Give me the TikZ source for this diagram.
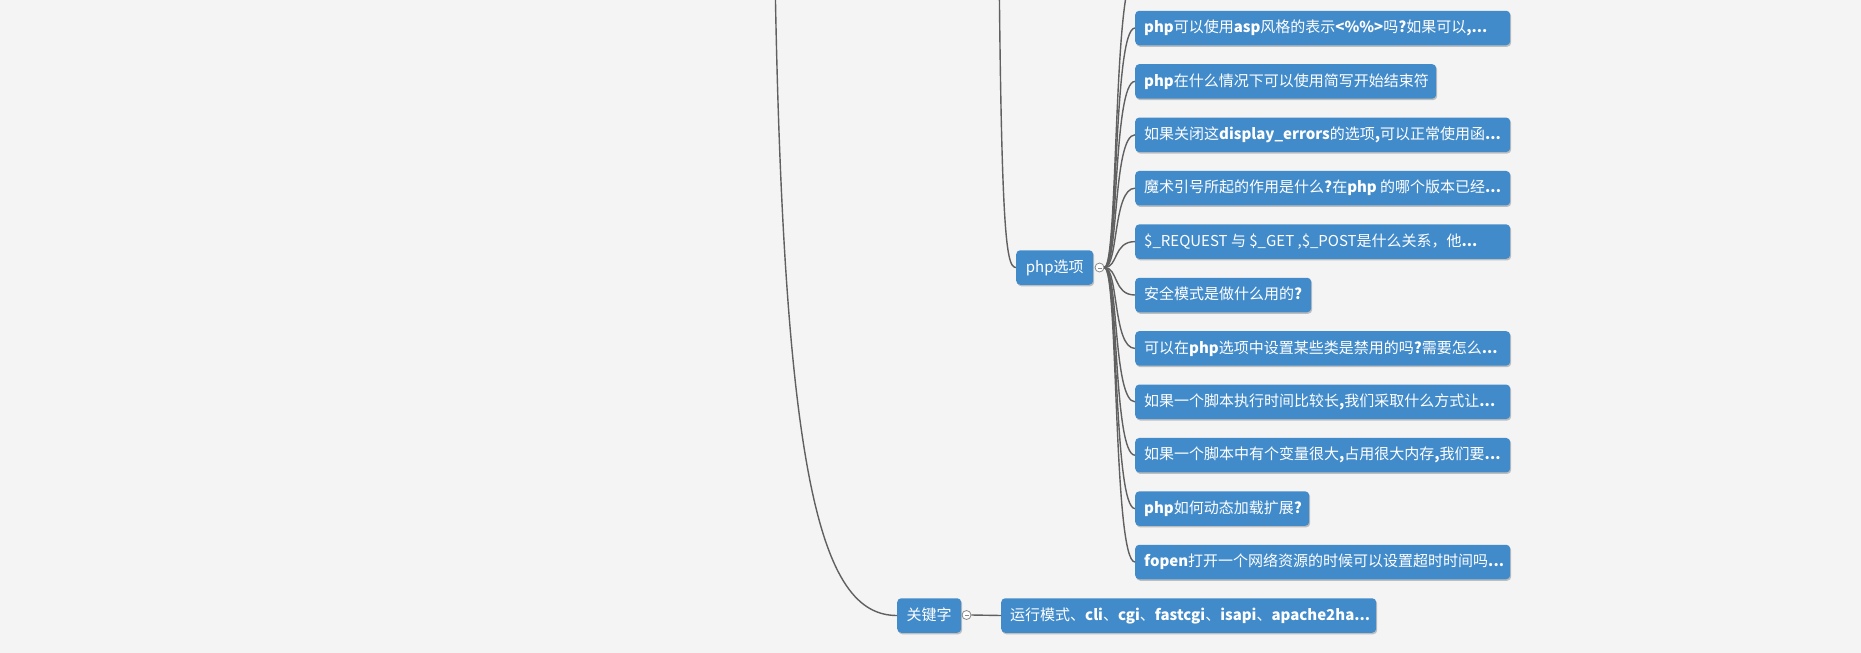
\documentclass[tikz,border=0pt]{standalone}
\usepackage{fontspec}
\setmainfont{Noto Sans CJK SC}
\usetikzlibrary{shadows,calc}
\definecolor{bg}{HTML}{F4F4F4}
\definecolor{topicblue}{HTML}{428BCA}
\definecolor{linegray}{HTML}{606060}
\definecolor{foldgray}{HTML}{8A8A8A}
\begin{document}
\begin{tikzpicture}[x=1pt,y=-1pt,
  topic/.style={fill=topicblue, text=white, rounded corners=4pt, inner xsep=9pt, inner ysep=0pt,
    minimum height=34.5pt, text height=12.5pt, text depth=3pt,
    font=\fontsize{15}{18}\selectfont,
    drop shadow={shadow xshift=1pt,shadow yshift=-1.5pt,fill=black,opacity=0.22}},
  conn/.style={draw=linegray, line width=1.4pt},
  fold/.style={circle, draw=foldgray, fill=white, inner sep=0pt, minimum size=9pt, line width=0.8pt}]
\useasboundingbox (0,0) rectangle (1861,653);
\fill[bg] (0,0) rectangle (1861,653);

% right-hand topics of php选项
\node[topic, anchor=west] (b1) at (1135,28) {\makebox[357pt][l]{\textbf{php}可以使用\textbf{asp}风格的表示\textbf{<\%\%>}吗\textbf{?}如果可以\textbf{,...}}};
\node[topic, anchor=west] (b2) at (1135,81.4) {\makebox[283pt][l]{\textbf{php}在什么情况下可以使用简写开始结束符}};
\node[topic, anchor=west] (b3) at (1135,134.8) {\makebox[357pt][l]{如果关闭这\textbf{display\_errors}的选项\textbf{,}可以正常使用函\textbf{...}}};
\node[topic, anchor=west] (b4) at (1135,188.2) {\makebox[357pt][l]{魔术引号所起的作用是什么\textbf{?}在\textbf{php} 的哪个版本已经\textbf{...}}};
\node[topic, anchor=west] (b5) at (1135,241.6) {\makebox[357pt][l]{\$\_REQUEST 与 \$\_GET ,\$\_POST是什么关系，他\textbf{...}}};
\node[topic, anchor=west] (b6) at (1135,295) {\makebox[158pt][l]{安全模式是做什么用的\textbf{?}}};
\node[topic, anchor=west] (b7) at (1135,348.4) {\makebox[357pt][l]{可以在\textbf{php}选项中设置某些类是禁用的吗\textbf{?}需要怎么\textbf{...}}};
\node[topic, anchor=west] (b8) at (1135,401.8) {\makebox[357pt][l]{如果一个脚本执行时间比较长\textbf{,}我们采取什么方式让\textbf{...}}};
\node[topic, anchor=west] (b9) at (1135,455.2) {\makebox[357pt][l]{如果一个脚本中有个变量很大\textbf{,}占用很大内存\textbf{,}我们要\textbf{...}}};
\node[topic, anchor=west] (b10) at (1135,508.6) {\makebox[156pt][l]{\textbf{php}如何动态加载扩展\textbf{?}}};
\node[topic, anchor=west] (b11) at (1135,562) {\makebox[357pt][l]{\textbf{fopen}打开一个网络资源的时候可以设置超时时间吗\textbf{...}}};
\coordinate (b0) at (1135,-25.4);

% php选项
\node[topic, anchor=west, inner xsep=10pt] (php) at (1016,267.5) {\makebox[57pt][c]{php选项}};
\node[fold] (c1) at (1099.5,267.5) {};
\draw[foldgray, line width=0.8pt] ($(c1.center)+(-2,0.8)$) -- ($(c1.center)+(2,0.8)$);

% 关键字
\node[topic, anchor=west, inner xsep=10pt] (kw) at (897,615.5) {\makebox[44pt][c]{关键字}};
\node[fold] (c2) at (966.5,615) {};
\draw[foldgray, line width=0.8pt] ($(c2.center)+(-2,0.8)$) -- ($(c2.center)+(2,0.8)$);
\node[topic, anchor=west] (b12) at (1001,615.5) {\makebox[357pt][l]{运行模式、\textbf{cli}、\textbf{cgi}、\textbf{fastcgi}、\textbf{isapi}、\textbf{apache2ha...}}};

% parents off the top
\coordinate (pp) at (998,-200);
\coordinate (gp) at (774,-100);

% connectors
\foreach \n in {b1,b2,b3,b4,b5,b6,b7,b8,b9,b10,b11}
  \draw[conn] (c1.east) .. controls +(14,0) and +(-22,0) .. (\n.west);
\draw[conn] (c1.east) .. controls +(14,0) and +(-22,0) .. (b0);
\draw[conn] (pp) .. controls (1000,230) and (1005,267.5) .. (php.west);
\draw[conn] (gp) .. controls (780,480) and (820,615.5) .. (kw.west);
\draw[conn] (c2.east) -- (b12.west);
\end{tikzpicture}
\end{document}
